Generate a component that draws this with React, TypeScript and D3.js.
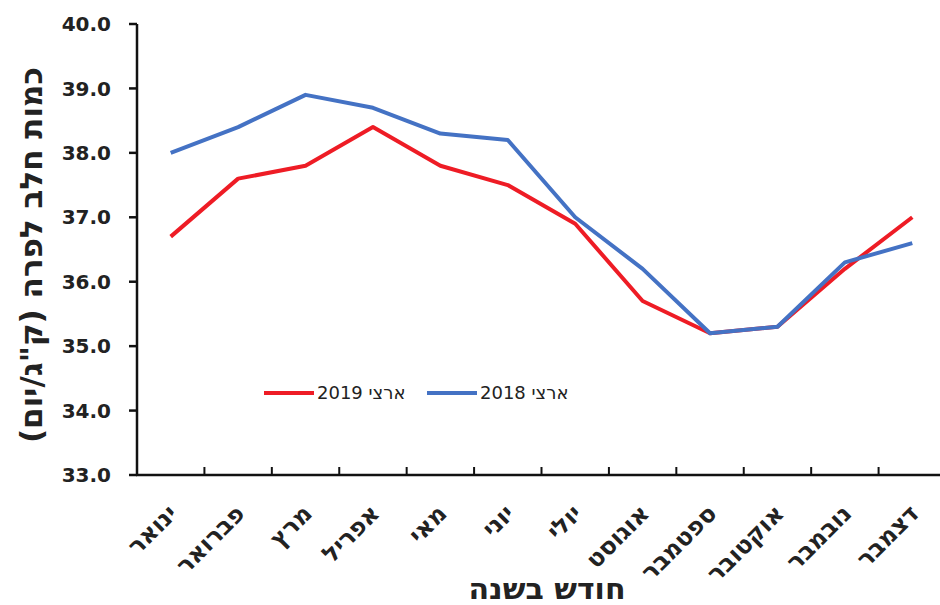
import React from "react";
import * as d3 from "d3";

const months = ["ינואר", "פברואר", "מרץ", "אפריל", "מאי", "יוני", "יולי", "אוגוסט", "ספטמבר", "אוקטובר", "נובמבר", "דצמבר"];
const values2019 = [36.7, 37.6, 37.8, 38.4, 37.8, 37.5, 36.9, 35.7, 35.2, 35.3, 36.2, 37.0];
const values2018 = [38.0, 38.4, 38.9, 38.7, 38.3, 38.2, 37.0, 36.2, 35.2, 35.3, 36.3, 36.6];
const yTicks = [33, 34, 35, 36, 37, 38, 39, 40];
const seriesNames = ["ארצי 2019", "ארצי 2018"];

const W = 940;
const H = 605;
const margin = { top: 24, right: -6, bottom: 130, left: 137 };
const boldFont = "'DejaVu Sans', sans-serif";

const App = () => {
    const x = d3
        .scaleBand()
        .domain(months)
        .range([margin.left, W - margin.right])
        .padding(0);
    const y = d3
        .scaleLinear()
        .domain([33, 40])
        .range([H - margin.bottom, margin.top]);

    const cx = (m) => x(m) + x.bandwidth() / 2;
    const line = d3
        .line()
        .x((d, i) => cx(months[i]))
        .y((d) => y(d));

    const series = [
        { name: seriesNames[0], values: values2019, color: "#ee1c25" },
        { name: seriesNames[1], values: values2018, color: "#4472c4" },
    ];
    const y0 = y(33);

    return (
        <svg width={W} height={H} style={{ position: "absolute", left: 0, top: 0, background: "#fff" }}>
            {/* y axis */}
            <line x1={margin.left} x2={margin.left} y1={y(40)} y2={y0} stroke="#111" strokeWidth={2.5} />
            {yTicks.map((t) => (
                <g key={t}>
                    <line x1={margin.left - 8} x2={margin.left} y1={y(t)} y2={y(t)} stroke="#111" strokeWidth={2.5} />
                    <text
                        x={margin.left - 26}
                        y={y(t)}
                        dy="0.36em"
                        textAnchor="end"
                        fontFamily={boldFont}
                        fontWeight="bold"
                        fontSize={20}
                        fill="#222"
                    >
                        {t.toFixed(1)}
                    </text>
                </g>
            ))}
            {/* x axis */}
            <line x1={margin.left - 1} x2={W} y1={y0} y2={y0} stroke="#111" strokeWidth={2.5} />
            {months.map((m) => (
                <g key={m}>
                    <line x1={x(m) + x.bandwidth()} x2={x(m) + x.bandwidth()} y1={y0} y2={y0 - 8} stroke="#111" strokeWidth={2} />
                    <text
                        transform={`translate(${cx(m) + 8},${y0 + 40}) rotate(-45)`}
                        textAnchor="end"
                        fontFamily={boldFont}
                        fontWeight="bold"
                        fontSize={24}
                        fill="#222"
                    >
                        {m}
                    </text>
                </g>
            ))}
            {/* lines */}
            {series.map((s) => (
                <path
                    key={s.name}
                    d={line(s.values)}
                    fill="none"
                    stroke={s.color}
                    strokeWidth={4}
                    strokeLinejoin="round"
                />
            ))}
            {/* legend */}
            {series.map((s, i) => (
                <g key={s.name} transform={`translate(${264 + i * 163},393)`}>
                    <line x1={0} x2={50} y1={0} y2={0} stroke={s.color} strokeWidth={4} />
                    <text
                        x={53}
                        y={0}
                        dy="0.36em"
                        fontFamily="'DejaVu Sans', sans-serif"
                        fontSize={18}
                        fill="#222"
                    >
                        {s.name}
                    </text>
                </g>
            ))}
            {/* axis titles */}
            <text
                transform={`translate(31,${255}) rotate(-90)`}
                direction="rtl"
                textAnchor="middle"
                dy="0.36em"
                fontFamily={boldFont}
                fontWeight="bold"
                fontSize={31}
                fill="#222"
            >
                {'כמות חלב לפרה (ק"ג/יום)'}
            </text>
            <text
                x={547}
                y={599}
                direction="rtl"
                textAnchor="middle"
                fontFamily={boldFont}
                fontWeight="bold"
                fontSize={30}
                fill="#222"
            >
                חודש בשנה
            </text>
        </svg>
    );
};

export default App;
